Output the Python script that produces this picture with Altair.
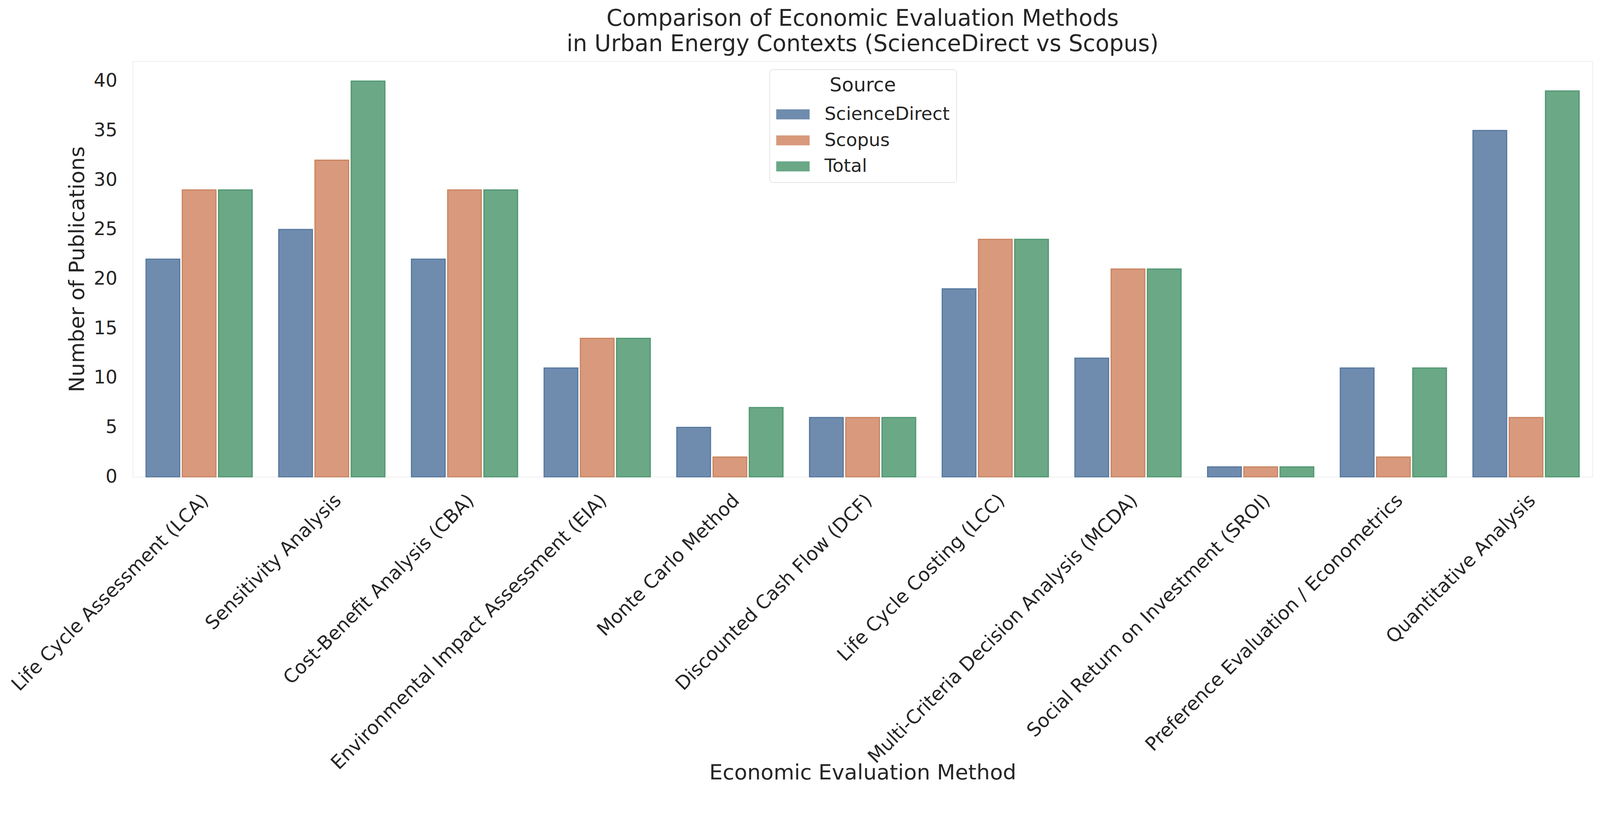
import altair as alt
import pandas as pd

methods = [
    "Life Cycle Assessment (LCA)",
    "Sensitivity Analysis",
    "Cost-Benefit Analysis (CBA)",
    "Environmental Impact Assessment (EIA)",
    "Monte Carlo Method",
    "Discounted Cash Flow (DCF)",
    "Life Cycle Costing (LCC)",
    "Multi-Criteria Decision Analysis (MCDA)",
    "Social Return on Investment (SROI)",
    "Preference Evaluation / Econometrics",
    "Quantitative Analysis",
]
science_direct = [22, 25, 22, 11, 5, 6, 19, 12, 1, 11, 35]
scopus = [29, 32, 29, 14, 2, 6, 24, 21, 1, 2, 6]
total = [29, 40, 29, 14, 7, 6, 24, 21, 1, 11, 39]
sources = ["ScienceDirect", "Scopus", "Total"]
fill_colors = ["#6f8cae", "#d8997c", "#6aa886"]
edge_colors = ["#56769d", "#c9845f", "#4f9671"]
y_ticks = [0, 5, 10, 15, 20, 25, 30, 35, 40]

rows = []
for m, a, b, c in zip(methods, science_direct, scopus, total):
    for s, v in zip(sources, (a, b, c)):
        rows.append({"Method": m, "Source": s, "Count": v})
df = pd.DataFrame(rows)

FONT = "DejaVu Sans"
TXT = "#262626"
W, H = 3929, 1119

chart = alt.Chart(df).mark_bar(strokeWidth=3).encode(
    x=alt.X(
        "Method:N",
        sort=methods,
        scale=alt.Scale(paddingInner=0.2, paddingOuter=0.1),
        axis=alt.Axis(
            title="Economic Evaluation Method",
            labelAngle=-45,
            labelAlign="right",
            labelBaseline="top",
            labelPadding=38,
            labelFontSize=51,
            labelColor=TXT,
            labelFont=FONT,
            labelLimit=2000,
            ticks=False,
            domain=False,
            grid=False,
            titleFontSize=57,
            titleFont=FONT,
            titleColor=TXT,
            titleFontWeight="normal",
            titleY=814,
            titleBaseline="alphabetic",
        ),
    ),
    xOffset=alt.XOffset("Source:N", sort=sources, scale=alt.Scale(paddingInner=0.07)),
    y=alt.Y(
        "Count:Q",
        scale=alt.Scale(domain=[0, 42], nice=False),
        axis=alt.Axis(
            title="Number of Publications",
            values=y_ticks,
            labelFontSize=50,
            labelColor=TXT,
            labelFont=FONT,
            labelPadding=42,
            ticks=False,
            domain=False,
            grid=False,
            titleFontSize=57,
            titleFont=FONT,
            titleColor=TXT,
            titleFontWeight="normal",
            titleX=-132,
            titleBaseline="alphabetic",
        ),
    ),
    color=alt.Color(
        "Source:N",
        sort=sources,
        scale=alt.Scale(domain=sources, range=fill_colors),
        legend=alt.Legend(
            title="Source",
            orient="none",
            legendX=1714,
            legendY=22,
            direction="vertical",
            titleAnchor="middle",
            titleFontSize=52,
            titleFont=FONT,
            titleColor=TXT,
            titleFontWeight="normal",
            titlePadding=6,
            titleLimit=2000,
            labelFontSize=49,
            labelFont=FONT,
            labelColor=TXT,
            labelLimit=2000,
            labelOffset=40,
            symbolType="M-1,-0.3L1,-0.3L1,0.3L-1,0.3Z",
            symbolSize=8100,
            symbolStrokeWidth=0,
            symbolOpacity=1,
            rowPadding=0,
            padding=18,
            strokeColor="#c8c8c8",
            fillColor="white",
            cornerRadius=8,
        ),
    ),
    stroke=alt.Stroke(
        "Source:N",
        sort=sources,
        scale=alt.Scale(domain=sources, range=edge_colors),
        legend=None,
    ),
).properties(
    width=W,
    height=H,
    title=alt.TitleParams(
        text=[
            "Comparison of Economic Evaluation Methods",
            "in Urban Energy Contexts (ScienceDirect vs Scopus)",
        ],
        fontSize=61,
        font=FONT,
        color=TXT,
        fontWeight="normal",
        anchor="middle",
        lineHeight=69,
        offset=14,
    ),
    autosize=alt.AutoSizeParams(type="none"),
    padding={"left": 349, "top": 104, "right": 12, "bottom": 820},
).configure_view(
    stroke="#b8b8b8", strokeWidth=4
).configure(
    background="white"
)

chart.save("out.html", embed_options={"renderer": "svg", "actions": False})
